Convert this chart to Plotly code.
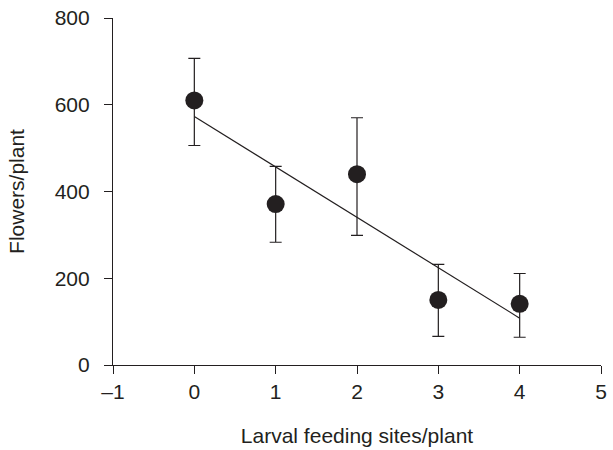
import plotly.graph_objects as go

# Data
feeding_sites = [0, 1, 2, 3, 4]
flowers_mean = [610, 371, 440, 150, 141]
err_upper = [97, 87, 130, 82, 70]
err_lower = [104, 88, 141, 84, 77]

fit_x = [0, 4]
fit_y = [573, 108]

x_ticks = [-1, 0, 1, 2, 3, 4, 5]
x_tick_text = ["–1", "0", "1", "2", "3", "4", "5"]
y_ticks = [0, 200, 400, 600, 800]

ink = "#231f20"

fig = go.Figure()

fig.add_trace(go.Scatter(
    x=fit_x, y=fit_y, mode="lines",
    line=dict(color=ink, width=1.2),
    showlegend=False, hoverinfo="skip",
))

fig.add_trace(go.Scatter(
    x=feeding_sites, y=flowers_mean, mode="markers",
    marker=dict(color=ink, size=18, line=dict(width=0)),
    error_y=dict(type="data", symmetric=False, array=err_upper,
                 arrayminus=err_lower, color=ink, thickness=1.2, width=6),
    showlegend=False,
))

font = dict(family="Liberation Sans, Arial, sans-serif", size=21, color=ink)

fig.update_layout(
    width=613, height=450,
    margin=dict(l=113, r=6, t=14, b=84),
    paper_bgcolor="white", plot_bgcolor="white",
    font=font,
    xaxis=dict(
        range=[-1, 5], tickvals=x_ticks, ticktext=x_tick_text,
        showline=True, linecolor=ink, linewidth=1.2,
        ticks="outside", ticklen=8, tickwidth=1.2, tickcolor=ink,
        showgrid=False, zeroline=False,
        title=dict(text="Larval feeding sites/plant", standoff=26, font=font),
        tickfont=font,
    ),
    yaxis=dict(
        range=[0, 800], tickvals=y_ticks,
        showline=True, linecolor=ink, linewidth=1.2,
        ticks="outside", ticklen=8, tickwidth=1.2, tickcolor=ink,
        ticklabelstandoff=10,
        showgrid=False, zeroline=False,
        title=dict(text="Flowers/plant", standoff=24, font=font),
        tickfont=font,
    ),
)

fig.write_html("out.html")
